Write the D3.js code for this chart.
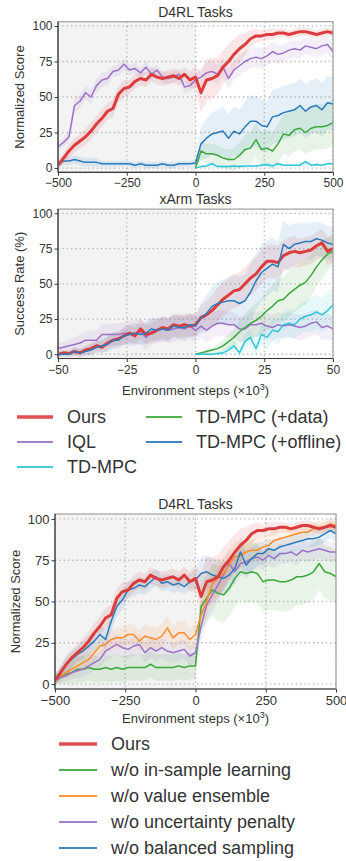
<!DOCTYPE html>
<html>
<head>
<meta charset="utf-8">
<script src="https://cdn.jsdelivr.net/npm/d3@7"></script>
<style>
  html, body { margin: 0; padding: 0; background: #fff; }
  svg { display: block; font-family: "Liberation Sans", Arial, Helvetica, sans-serif; }
</style>
</head>
<body>
<svg id="fig" width="346" height="861"></svg>
<script>
// ---------- steps (x values) ----------
const d4rlSteps = [-500,-480,-460,-440,-420,-400,-380,-360,-340,-320,-300,-280,-260,-240,-220,-200,-180,-160,-140,-120,-100,-80,-60,-40,-20,0,
  20,40,60,80,100,120,140,160,180,200,220,240,260,280,300,320,340,360,380,400,420,440,460,480,500];
const d4rlOnlineSteps = [0,20,40,60,80,100,120,140,160,180,200,220,240,260,280,300,320,340,360,380,400,420,440,460,480,500];
const xarmSteps = [-50,-48,-46,-44,-42,-40,-38,-36,-34,-32,-30,-28,-26,-24,-22,-20,-18,-16,-14,-12,-10,-8,-6,-4,-2,0,
  2,4,6,8,10,12,14,16,18,20,22,24,26,28,30,32,34,36,38,40,42,44,46,48,50];
const xarmOnlineSteps = [0,2,4,6,8,10,12,14,16,18,20,22,24,26,28,30,32,34,36,38,40,42,44,46,48,50];

// ---------- tick labels ----------
const d4rlTicks = [-500, -250, 0, 250, 500];
const xarmTicks = [-50, -25, 0, 25, 50];
const scoreTicks = [0, 25, 50, 75, 100];

// ---------- D4RL: main comparison ----------
const d4rlOurs = [2,7,12,16,19,22,26,31,35,40,42,52,56,57,61,63,62,66,64,63,64,65,63,66,62,64,
  53,62,63,65,71,75,80,84,87,91,93,93,94,94,95,95,94,95,96,96,95,94,95,96,95];
const d4rlOursSpread = [3,4,5,5,5,6,6,6,6,6,6,6,6,5,5,5,5,5,5,5,5,5,5,5,6,8,
  14,15,14,13,12,12,11,10,8,6,5,4,4,4,3,3,3,3,3,3,3,3,3,3,3];
const d4rlIQL = [15,18,22,44,47,53,50,58,62,63,68,69,73,69,70,67,71,66,69,64,63,64,66,57,58,62,
  64,67,68,66,71,63,69,72,75,77,78,77,79,82,80,81,83,84,83,86,85,84,86,87,82];
const d4rlIQLSpread = [3,3,4,5,5,5,5,5,5,5,4,4,4,4,4,4,4,4,4,4,4,4,4,4,4,5,
  7,7,7,7,7,7,7,7,7,7,7,7,7,7,7,6,6,6,6,6,6,6,6,6,6];
const d4rlOffline = [2,5,5,6,5,4,4,4,3,3,3,3,3,3,2,3,2,2,2,3,2,2,3,3,3,3.5,
  17,21,24,25,26,21,26,24,29,33,33,30,29,36,37,39,40,41,44,40,43,44,41,46,45];
const d4rlOfflineSpread = [2,3,3,3,3,3,3,3,2,2,2,2,2,2,2,2,2,2,2,2,2,2,2,2,2,2,
  12,14,15,16,17,17,17,17,18,18,18,18,18,19,19,19,19,19,19,19,19,19,19,19,19];
const d4rlData = [0,12,10,10,9,7,6,6,9,13,14,20,13,14,12,17,24,23,27,28,25,28,29,29,30,32];
const d4rlDataSpread = [0,6,7,7,7,7,7,8,9,10,11,12,12,13,13,14,14,15,15,15,15,16,16,16,16,16];
const d4rlTDMPC = [0,1,1.5,3,1,1,1,1.5,1,1.5,1.5,1.5,2,2.5,1.5,3,2,2,2,2,4.5,2,2.5,2,3,3];
const d4rlTDMPCSpread = [0,1,1,2,1,1,1,1,1,1,1,1,1,2,1,2,1,1,1,1,2,1,1,1,1,1];

// ---------- xArm: main comparison ----------
const xarmOurs = [0,1,0.5,2,1,3,4,6,5,8,10,11,13,15,13,18,14,15,17,19,18,21,20,21,20,21,
  26,28,31,35,39,42,45,46,50,54,57,62,66,66,65,70,72,73,72,73,74,77,79,73,75];
const xarmOursSpread = [2,2,2,3,3,3,4,4,4,5,5,5,6,6,6,7,7,7,7,8,8,8,8,8,8,8,
  9,10,11,12,12,12,12,12,12,12,12,12,12,12,12,11,11,11,10,10,10,10,10,10,10];
const xarmIQL = [4,5,6,7,8,10,10,10,14,14,14,14,15,15,15,16,12,16,17,18,17,18,19,18,20,17,
  20,17,20,22,22,21,21,18,18,21,21,22,20,19,21,20,21,20,19,20,22,23,19,20,18];
const xarmIQLSpread = [4,4,5,5,6,6,7,7,7,8,8,8,8,9,9,9,9,9,9,9,9,9,9,9,9,9,
  9,9,9,9,9,9,9,9,9,9,9,9,9,9,9,9,9,9,9,9,9,9,9,9,9];
const xarmOffline = [0,0,0,2,1,2,3,5,6,7,10,10,13,14,15,14,15,18,17,18,17,20,19,19,21,20,
  26,29,34,36,37,38,38,36,38,44,52,58,61,64,62,78,75,78,79,80,80,82,81,79,78];
const xarmOfflineSpread = [2,2,2,3,3,3,4,4,5,5,6,6,6,7,7,7,8,8,8,8,8,8,8,8,8,8,
  11,13,14,15,16,17,18,19,19,20,20,20,20,19,18,17,16,15,14,13,13,12,12,12,12];
const xarmData = [0,1,2,3,4,6,9,12,16,19,22,24,27,31,34,38,39,43,46,49,51,56,62,67,71,73];
const xarmDataSpread = [0,1,2,2,3,4,5,6,8,10,11,12,13,14,15,15,16,16,16,16,16,15,14,13,12,10];
const xarmTDMPC = [0,0,0,0,0.5,1,3,6,1,9,12,4,14,12,17,16,21,22,21,25,27,28,30,28,31,35];
const xarmTDMPCSpread = [0,0,1,1,1,2,3,4,4,5,6,6,7,8,8,9,9,10,10,11,11,12,12,12,13,13];

// ---------- D4RL: ablations ----------
const ablNoBalanced = [3,7,12,15,18,20,23,26,30,27,38,47,51,57,58,60,59,62,65,61,62,60,61,59,62,63,
  67,68,66,65,64,66,70,80,72,76,79,79,82,81,83,84,85,86,87,88,88,89,91,93,91];
const ablNoBalancedSpread = [3,4,5,5,5,6,6,6,6,6,6,6,6,5,5,5,5,5,5,5,5,5,5,5,5,6,
  10,10,10,10,10,10,9,9,8,8,7,7,6,6,6,5,5,5,5,5,5,5,5,5,5];
const ablNoEnsemble = [3,5,7,9,11,13,15,19,23,24,27,28,28,30,30,26,29,28,27,29,34,28,31,31,27,30,
  42,50,61,64,67,72,77,78,80,81,81,83,84,87,88,89,90,91,92,92,94,95,95,97,96];
const ablNoEnsembleSpread = [2,3,3,4,4,4,5,5,5,6,6,6,6,6,6,6,7,7,7,7,7,7,7,7,7,7,
  8,9,10,10,10,9,9,8,8,7,7,6,6,6,5,5,5,5,4,4,4,4,4,4,4];
const ablNoPenalty = [2,4,5,7,8,9,11,13,15,20,22,24,22,21,23,24,19,22,20,22,20,19,20,21,17,19,
  35,48,54,60,66,73,68,73,74,76,77,75,78,76,79,79,80,78,81,80,81,82,81,80,80];
const ablNoPenaltySpread = [2,3,3,4,4,5,5,5,5,6,6,6,6,6,6,6,6,6,6,6,6,6,6,6,6,6,
  9,10,10,10,9,9,8,8,7,7,7,6,6,6,6,6,6,6,6,6,6,6,6,6,6];
const ablNoInSample = [3,5,6,7,9,9,10,9,9,10,9,10,9,10,10,10,10,12,10,10,10,10,11,10,11,11,
  47,52,57,55,54,58,64,68,67,68,67,62,63,63,62,62,63,65,65,66,68,73,68,67,65];
const ablNoInSampleSpread = [3,5,6,7,8,8,8,8,8,8,8,8,8,8,8,8,8,8,8,8,8,8,8,8,8,8,
  14,15,16,17,17,17,17,17,18,18,18,18,18,18,18,18,18,17,17,17,17,16,16,16,16];

// ---------- palette ----------
const C = {
  ours: "#dc3c3c", purple: "#9d72c9", cyan: "#2ec6d8",
  green: "#3aa83a", blue: "#2a7bbd", orange: "#ff8c2a"
};

const svg = d3.select("#fig");
const textColor = "#333";

function panel(cfg) {
  const g = svg.append("g");
  const x = d3.scaleLinear().domain(cfg.xDomain).range([cfg.left, cfg.right]);
  const y = d3.scaleLinear().domain([-3, 103]).range([cfg.bottom, cfg.top]);
  const clipId = "clip" + cfg.id;
  svg.append("defs").append("clipPath").attr("id", clipId)
    .append("rect").attr("x", cfg.left).attr("y", cfg.top)
    .attr("width", cfg.right - cfg.left).attr("height", cfg.bottom - cfg.top);

  // offline phase background
  g.append("rect")
    .attr("x", x(cfg.xDomain[0])).attr("y", cfg.top)
    .attr("width", x(0) - x(cfg.xDomain[0])).attr("height", cfg.bottom - cfg.top)
    .attr("fill", "#f3f3f3");

  // dotted grid
  const grid = g.append("g").attr("stroke", "#b4b4b4").attr("stroke-width", 1.3)
    .attr("stroke-dasharray", "1.3,3");
  cfg.xTicks.forEach(t => grid.append("line")
    .attr("x1", x(t)).attr("x2", x(t)).attr("y1", cfg.top).attr("y2", cfg.bottom));
  scoreTicks.forEach(t => grid.append("line")
    .attr("x1", cfg.left).attr("x2", cfg.right).attr("y1", y(t)).attr("y2", y(t)));

  const body = g.append("g").attr("clip-path", `url(#${clipId})`);
  const area = d3.area().x(d => x(d[0])).y0(d => y(d[1] - d[2])).y1(d => y(d[1] + d[2]));
  const line = d3.line().x(d => x(d[0])).y(d => y(d[1]));
  const rows = s => s.xs.map((v, i) => [v, s.values[i], s.spread[i]]);

  cfg.series.forEach(s => body.append("path").datum(rows(s))
    .attr("d", area).attr("fill", s.color).attr("fill-opacity", 0.12).attr("stroke", "none"));
  cfg.series.forEach(s => body.append("path").datum(rows(s))
    .attr("d", line).attr("fill", "none").attr("stroke", s.color)
    .attr("stroke-width", s.width).attr("stroke-linejoin", "round"));

  // frame
  g.append("rect").attr("x", cfg.left).attr("y", cfg.top)
    .attr("width", cfg.right - cfg.left).attr("height", cfg.bottom - cfg.top)
    .attr("fill", "none").attr("stroke", "#a0a0a0").attr("stroke-width", 1.2);

  // axes (left and bottom, dark spines with outward ticks)
  const fmt = d => (d < 0 ? "\u2212" + Math.abs(d) : String(d));
  const xAxis = g.append("g").attr("transform", `translate(0,${cfg.bottom})`)
    .call(d3.axisBottom(x).tickValues(cfg.xTicks).tickSize(3.5).tickPadding(3).tickFormat(fmt));
  const yAxis = g.append("g").attr("transform", `translate(${cfg.left},0)`)
    .call(d3.axisLeft(y).tickValues(scoreTicks).tickSize(3.5).tickPadding(2).tickFormat(fmt));
  [xAxis, yAxis].forEach(a => {
    a.select(".domain").attr("stroke", "#3a3a3a").attr("stroke-width", 1.2);
    a.selectAll(".tick line").attr("stroke", "#3a3a3a").attr("stroke-width", 1);
    a.selectAll(".tick text").attr("fill", textColor)
      .attr("font-size", cfg.tickSize).attr("font-family", "Liberation Sans, Arial, sans-serif");
  });
  yAxis.select(".domain").attr("d", `M0,${cfg.top}V${cfg.bottom}`);
  xAxis.select(".domain").attr("d", `M${cfg.left},0H${cfg.right}`);

  // title
  g.append("text").attr("x", (cfg.left + cfg.right) / 2).attr("y", cfg.titleY)
    .attr("text-anchor", "middle").attr("font-size", 14).attr("fill", textColor).text(cfg.title);

  // y label
  g.append("text")
    .attr("transform", `translate(${cfg.yLabelX},${(cfg.top + cfg.bottom) / 2}) rotate(-90)`)
    .attr("text-anchor", "middle").attr("dominant-baseline", "central")
    .attr("font-size", 13).attr("fill", textColor).text(cfg.yLabel);

  // x label
  if (cfg.xLabelY) {
    const t = g.append("text").attr("x", (cfg.left + cfg.right) / 2).attr("y", cfg.xLabelY)
      .attr("text-anchor", "middle").attr("font-size", 13).attr("fill", textColor);
    t.append("tspan").text("Environment steps (\u00d710");
    t.append("tspan").attr("dy", -5).attr("font-size", 9).text("3");
    t.append("tspan").attr("dy", 5).text(")");
  }
}

const mainSeriesD4RL = [
  { xs: d4rlSteps, values: d4rlIQL, spread: d4rlIQLSpread, color: C.purple, width: 1.5 },
  { xs: d4rlSteps, values: d4rlOffline, spread: d4rlOfflineSpread, color: C.blue, width: 1.5 },
  { xs: d4rlOnlineSteps, values: d4rlData, spread: d4rlDataSpread, color: C.green, width: 1.5 },
  { xs: d4rlOnlineSteps, values: d4rlTDMPC, spread: d4rlTDMPCSpread, color: C.cyan, width: 1.5 },
  { xs: d4rlSteps, values: d4rlOurs, spread: d4rlOursSpread, color: C.ours, width: 3 }
];
const mainSeriesXArm = [
  { xs: xarmSteps, values: xarmIQL, spread: xarmIQLSpread, color: C.purple, width: 1.5 },
  { xs: xarmOnlineSteps, values: xarmData, spread: xarmDataSpread, color: C.green, width: 1.5 },
  { xs: xarmOnlineSteps, values: xarmTDMPC, spread: xarmTDMPCSpread, color: C.cyan, width: 1.5 },
  { xs: xarmSteps, values: xarmOurs, spread: xarmOursSpread, color: C.ours, width: 3 },
  { xs: xarmSteps, values: xarmOffline, spread: xarmOfflineSpread, color: C.blue, width: 1.5 }
];
const ablationSeries = [
  { xs: d4rlSteps, values: ablNoInSample, spread: ablNoInSampleSpread, color: C.green, width: 1.5 },
  { xs: d4rlSteps, values: ablNoPenalty, spread: ablNoPenaltySpread, color: C.purple, width: 1.5 },
  { xs: d4rlSteps, values: ablNoEnsemble, spread: ablNoEnsembleSpread, color: C.orange, width: 1.5 },
  { xs: d4rlSteps, values: ablNoBalanced, spread: ablNoBalancedSpread, color: C.blue, width: 1.5 },
  { xs: d4rlSteps, values: d4rlOurs, spread: d4rlOursSpread, color: C.ours, width: 3 }
];

panel({ id: 1, xDomain: [-500, 500], xTicks: d4rlTicks, left: 58, right: 333, top: 21.7, bottom: 172.3,
  series: mainSeriesD4RL, title: "D4RL Tasks", titleY: 17, yLabel: "Normalized Score", yLabelX: 19,
  tickSize: 12 });
panel({ id: 2, xDomain: [-50, 50], xTicks: xarmTicks, left: 58, right: 333, top: 209.1, bottom: 358.5,
  series: mainSeriesXArm, title: "xArm Tasks", titleY: 204, yLabel: "Success Rate (%)", yLabelX: 19,
  xLabelY: 395, tickSize: 12 });
panel({ id: 3, xDomain: [-500, 500], xTicks: d4rlTicks, left: 55, right: 336, top: 514, bottom: 689,
  series: ablationSeries, title: "D4RL Tasks", titleY: 509, yLabel: "Normalized Score", yLabelX: 15,
  xLabelY: 723, tickSize: 13 });

// ---------- legends ----------
function legend(items, opts) {
  const g = svg.append("g");
  items.forEach(it => {
    g.append("line").attr("x1", it.x).attr("x2", it.x + opts.lineLen)
      .attr("y1", it.y).attr("y2", it.y).attr("stroke", it.color)
      .attr("stroke-width", it.width).attr("stroke-opacity", 0.9);
    g.append("text").attr("x", it.x + opts.lineLen + opts.gap).attr("y", it.y)
      .attr("dominant-baseline", "central").attr("font-size", 18).attr("fill", textColor).text(it.label);
  });
}
const mainLegendLabels = ["Ours", "IQL", "TD-MPC", "TD-MPC (+data)", "TD-MPC (+offline)"];
legend([
  { label: mainLegendLabels[0], color: C.ours, width: 3.5, x: 17, y: 417 },
  { label: mainLegendLabels[1], color: C.purple, width: 2, x: 17, y: 442 },
  { label: mainLegendLabels[2], color: C.cyan, width: 2, x: 17, y: 467 },
  { label: mainLegendLabels[3], color: C.green, width: 2, x: 146, y: 417 },
  { label: mainLegendLabels[4], color: C.blue, width: 2, x: 146, y: 442 }
], { lineLen: 36, gap: 14 });

const ablationLegendLabels = ["Ours", "w/o in-sample learning", "w/o value ensemble",
  "w/o uncertainty penalty", "w/o balanced sampling"];
legend([
  { label: ablationLegendLabels[0], color: C.ours, width: 3.5, x: 59, y: 744 },
  { label: ablationLegendLabels[1], color: C.green, width: 2, x: 59, y: 770 },
  { label: ablationLegendLabels[2], color: C.orange, width: 2, x: 59, y: 796 },
  { label: ablationLegendLabels[3], color: C.purple, width: 2, x: 59, y: 822 },
  { label: ablationLegendLabels[4], color: C.blue, width: 2, x: 59, y: 848 }
], { lineLen: 38, gap: 14 });
</script>
</body>
</html>
